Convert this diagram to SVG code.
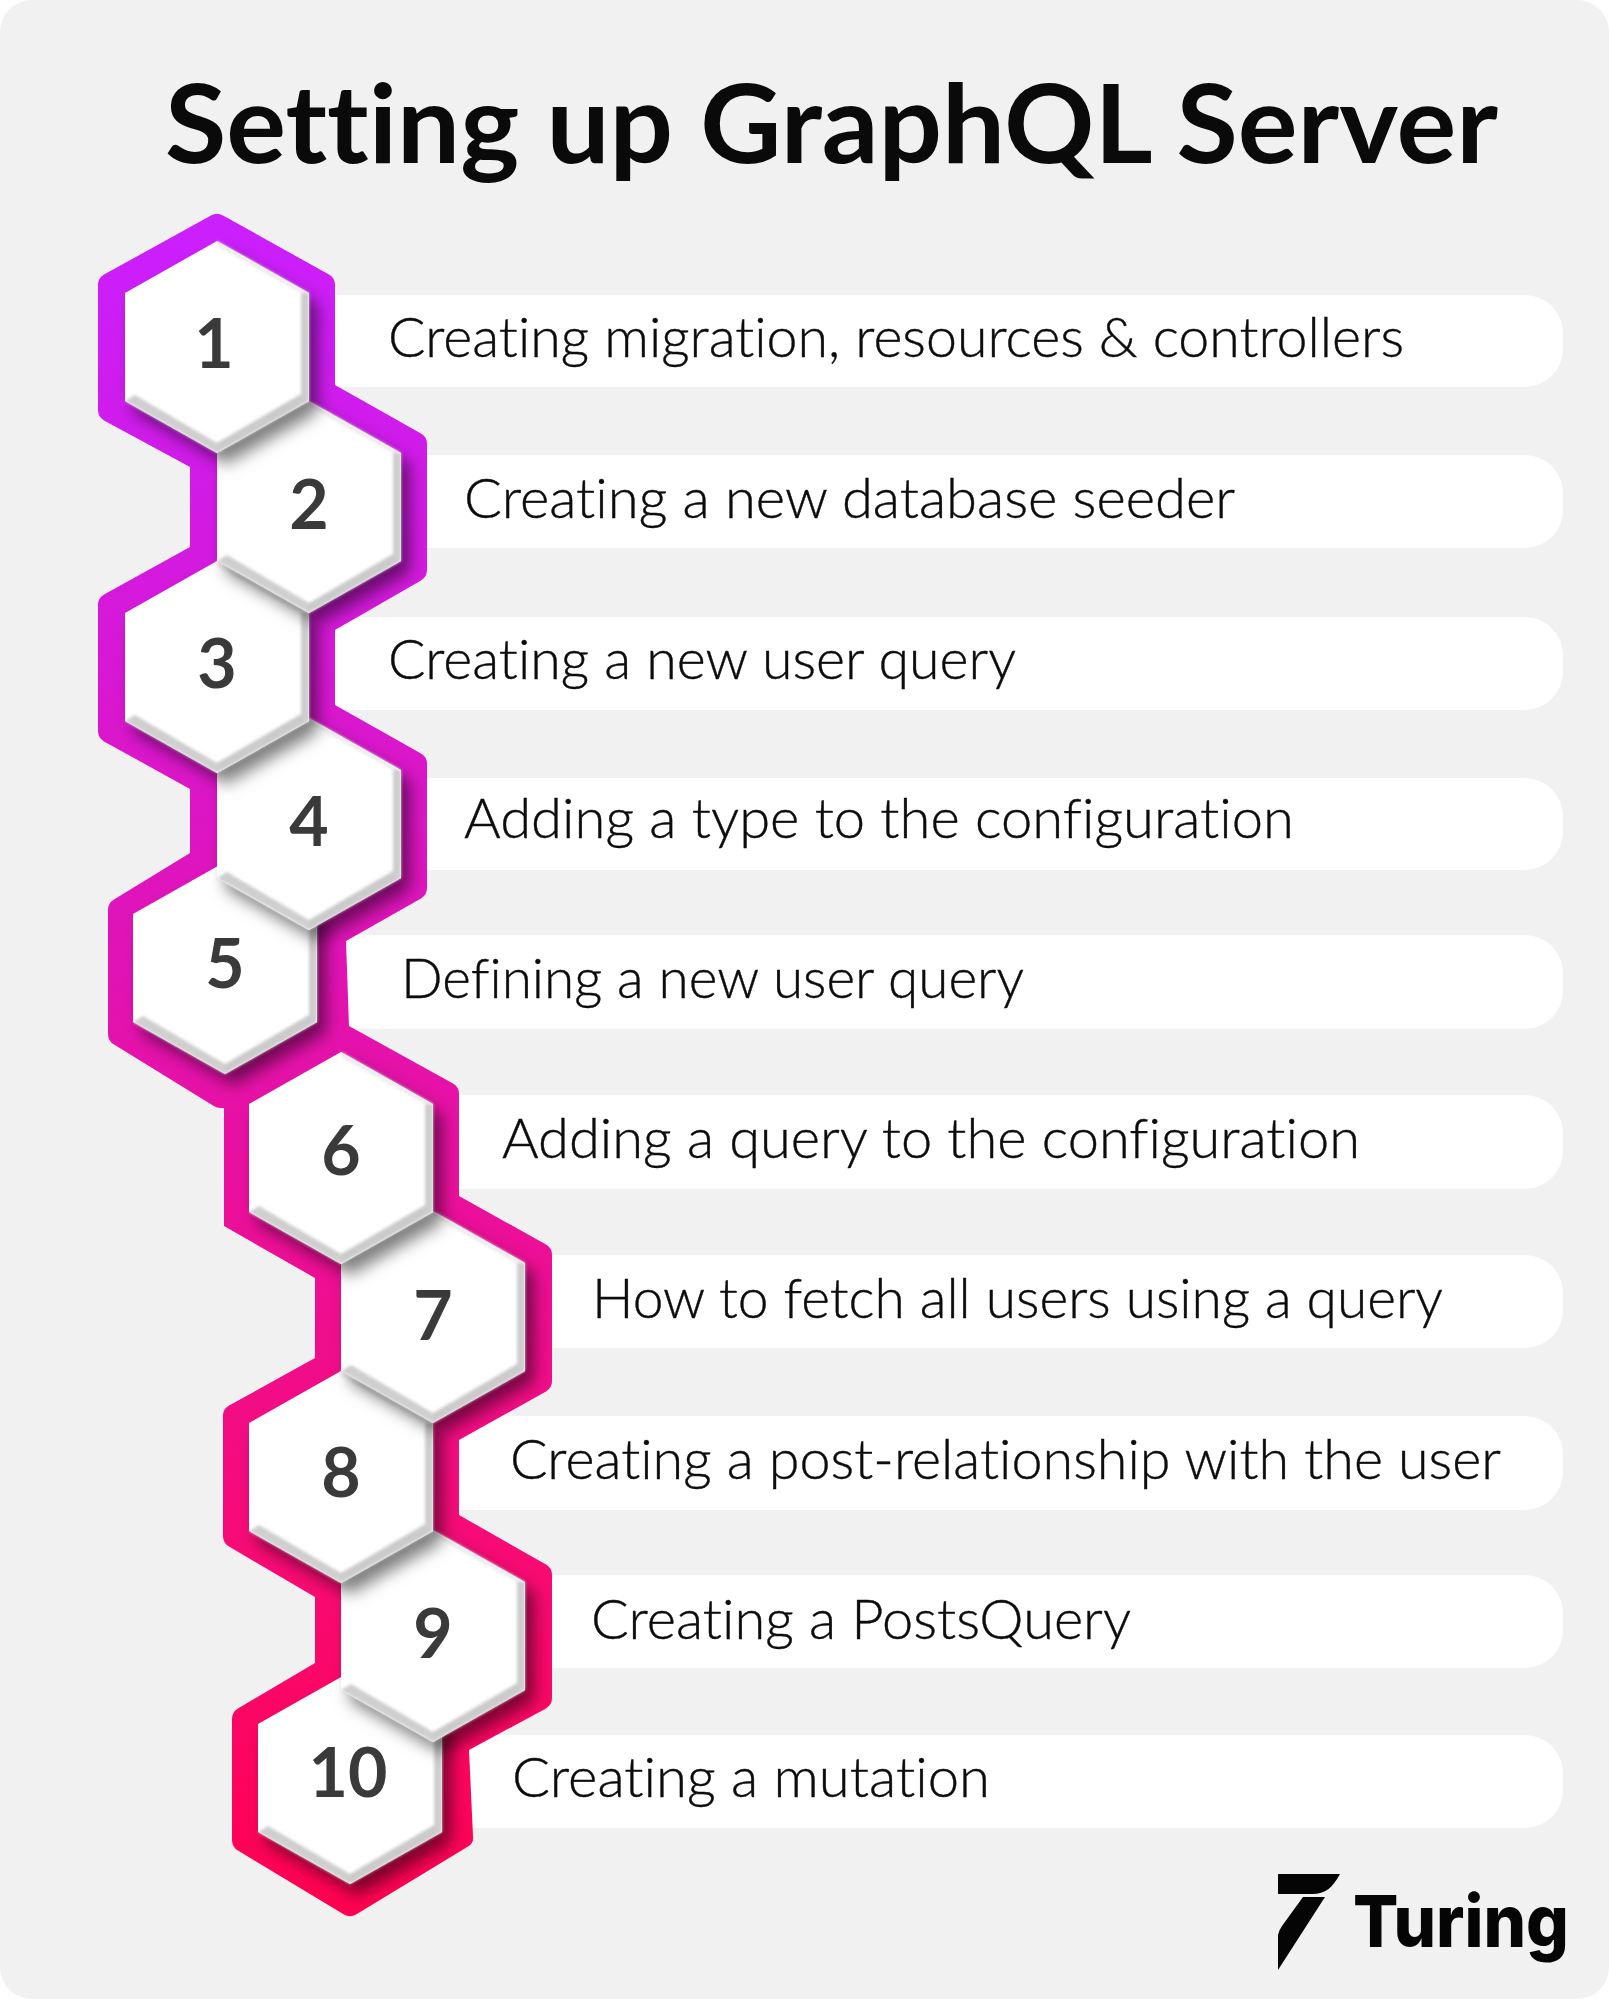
<svg xmlns="http://www.w3.org/2000/svg" width="1609" height="1999" viewBox="0 0 1609 1999">
<style>
text{font-variant-ligatures:none}
.title{font-family:"Lato","Liberation Sans",sans-serif;font-weight:700;font-size:110px;fill:#0a0a0a}
.lab{font-family:"Lato","Liberation Sans",sans-serif;font-weight:300;font-size:55px;fill:#0c0c0c;stroke:#0c0c0c;stroke-width:.4}
.num{font-family:"Lato","Liberation Sans",sans-serif;font-weight:700;font-size:68px;fill:#3a3a3a;text-anchor:middle}
.brand{font-family:"Inter","Liberation Sans",sans-serif;font-weight:800;font-size:72px;fill:#050505}
.pill{fill:#fff}
</style>
<defs>
<linearGradient id="ribbon" gradientUnits="userSpaceOnUse" x1="0" y1="212" x2="0" y2="1918">
<stop offset="0" stop-color="#cb1fff"/>
<stop offset="0.2" stop-color="#d31ae0"/>
<stop offset="0.4" stop-color="#df14bc"/>
<stop offset="0.6" stop-color="#ec0f98"/>
<stop offset="0.8" stop-color="#f80a72"/>
<stop offset="1" stop-color="#ff0050"/>
</linearGradient>
<filter id="shade" x="-30%" y="-30%" width="170%" height="170%">
<feDropShadow dx="9" dy="11" stdDeviation="8" flood-color="#000" flood-opacity="0.5"/>
</filter>
<filter id="soft" x="-5%" y="-5%" width="110%" height="110%"><feGaussianBlur stdDeviation="1.4"/></filter>
<clipPath id="rib"><path id="ribpath" d="M223 215.4L329 274.6Q335 278 335 285V385L421 433.6Q427 437 427 444V570Q427 577 421 580.4L335 630V705L421 753.6Q427 757 427 764V888Q427 895 421 898.4L346 941L349 1026L453 1083.6Q459 1087 459 1094V1196L546 1244.6Q552 1248 552 1255V1381Q552 1388 546 1391.4L459 1440V1515L546 1564.6Q552 1568 552 1575V1698Q552 1705 546 1708.4L469 1750L473 1836Q474 1843 468 1846.6L356 1914.4Q350 1918 344 1914.4L238 1850.6Q232 1847 232 1840V1719Q232 1712 238 1708.4L315 1663V1597L229 1546.6Q223 1543 223 1536V1416Q223 1409 229 1405.6L315 1358V1278L224 1226V1108H221Q217 1108 213 1105.5L114 1044.6Q108 1041 108 1034V910Q108 903 114 899.4L190 853V789L104 741.4Q98 738 98 731V605Q98 598 104 594.6L190 547V467L104 420.4Q98 417 98 410V285Q98 278 104 274.6L211 215.4Q217 212 223 215.4Z"/></clipPath>
<g id="hex">
<polygon points="0,-106 92,-54 92,54 0,106 -92,54 -92,-54" fill="#fff" filter="url(#shade)"/>
<g filter="url(#soft)">
<polygon points="0,-106 92,-54 84,-54 0,-101" fill="#ebebeb"/>
<polygon points="84,-54 92,-54 92,54 84,47" fill="#cdcdcd"/>
<polygon points="84,47 92,54 0,106 0,96" fill="#cbcbcb"/>
<polygon points="0,96 0,106 -92,54 -82,48" fill="#cfcfcf"/>
</g>
</g>
</defs>
<rect width="1609" height="1999" fill="#fff"/>
<rect id="panel" width="1609" height="1999" rx="32" fill="#f1f1f1"/>
<text class="title" x="165" y="163" textLength="1333" lengthAdjust="spacingAndGlyphs">Setting up GraphQL Server</text>
<g id="pills">
<rect class="pill" x="217" y="295" width="1346" height="92" rx="38"/>
<rect class="pill" x="309" y="455" width="1254" height="93" rx="38"/>
<rect class="pill" x="217" y="617" width="1346" height="93" rx="38"/>
<rect class="pill" x="309" y="778" width="1254" height="92" rx="38"/>
<rect class="pill" x="225" y="935" width="1338" height="94" rx="38"/>
<rect class="pill" x="341" y="1095" width="1222" height="94" rx="38"/>
<rect class="pill" x="433" y="1255" width="1130" height="93" rx="38"/>
<rect class="pill" x="341" y="1416" width="1222" height="94" rx="38"/>
<rect class="pill" x="433" y="1575" width="1130" height="93" rx="38"/>
<rect class="pill" x="350" y="1735" width="1213" height="93" rx="38"/>
</g>
<g id="connectors">
<use href="#ribpath" fill="url(#ribbon)"/>
</g>
<g id="nodes" clip-path="url(#rib)">
<g id="node-10"><use href="#hex" x="350" y="1778"/><text class="num" x="348" y="1797">10</text></g>
<g id="node-9"><use href="#hex" x="433" y="1636"/><text class="num" x="433" y="1658">9</text></g>
<g id="node-8"><use href="#hex" x="341" y="1477"/><text class="num" x="341" y="1497">8</text></g>
<g id="node-7"><use href="#hex" x="433" y="1317"/><text class="num" x="433" y="1340">7</text></g>
<g id="node-6"><use href="#hex" x="341" y="1158"/><text class="num" x="341" y="1175">6</text></g>
<g id="node-5"><use href="#hex" x="225" y="968"/><text class="num" x="225" y="988">5</text></g>
<g id="node-4"><use href="#hex" x="309" y="824"/><text class="num" x="309" y="846">4</text></g>
<g id="node-3"><use href="#hex" x="217" y="667"/><text class="num" x="217" y="688">3</text></g>
<g id="node-2"><use href="#hex" x="309" y="507"/><text class="num" x="309" y="529">2</text></g>
<g id="node-1"><use href="#hex" x="217" y="347"/><text class="num" x="214" y="368">1</text></g>
</g>
<g id="labels">
<text class="lab" x="388" y="357" textLength="1016" lengthAdjust="spacingAndGlyphs">Creating migration, resources &amp; controllers</text>
<text class="lab" x="464" y="518" textLength="771" lengthAdjust="spacingAndGlyphs">Creating a new database seeder</text>
<text class="lab" x="388" y="679" textLength="628" lengthAdjust="spacingAndGlyphs">Creating a new user query</text>
<text class="lab" x="464" y="838" textLength="830" lengthAdjust="spacingAndGlyphs">Adding a type to the configuration</text>
<text class="lab" x="401" y="998" textLength="623" lengthAdjust="spacingAndGlyphs">Defining a new user query</text>
<text class="lab" x="502" y="1158" textLength="858" lengthAdjust="spacingAndGlyphs">Adding a query to the configuration</text>
<text class="lab" x="592" y="1318" textLength="851" lengthAdjust="spacingAndGlyphs">How to fetch all users using a query</text>
<text class="lab" x="510" y="1479" textLength="991" lengthAdjust="spacingAndGlyphs">Creating a post-relationship with the user</text>
<text class="lab" x="591" y="1639" textLength="540" lengthAdjust="spacingAndGlyphs">Creating a PostsQuery</text>
<text class="lab" x="512" y="1797" textLength="478" lengthAdjust="spacingAndGlyphs">Creating a mutation</text>
</g>
<g id="logo">
<path d="M1278 1874H1340C1332 1888 1326 1894 1312 1894H1278Z" fill="#050505"/>
<path d="M1303 1897H1325L1278 1970V1935Q1279 1930 1282 1926Z" fill="#050505"/>
<text class="brand" x="1353" y="1947" textLength="216" lengthAdjust="spacingAndGlyphs">Turing</text>
</g>
</svg>
